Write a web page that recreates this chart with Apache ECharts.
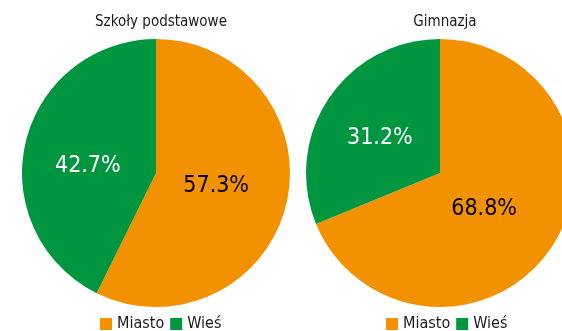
<!DOCTYPE html>
<html>
<head>
<meta charset="utf-8">
<script src="https://cdn.jsdelivr.net/npm/echarts@6/dist/echarts.min.js"></script>
<style>
  html, body { margin: 0; padding: 0; background: #fff; }
  #chart { width: 562px; height: 331px; }
</style>
</head>
<body>
<div id="chart"></div>
<script>
const categories = ['Miasto', 'Wieś'];
const titles = ['Szkoły podstawowe', 'Gimnazja'];
const szkolyValues = [57.3, 42.7];
const gimnazjaValues = [68.8, 31.2];
const colors = ['#f39200', '#009640'];
const labelColors = ['#000000', '#ffffff'];

const font = '"Liberation Sans Narrow", "DejaVu Sans Condensed", sans-serif';

// small nudges so the labels sit where the original put them
const makeData = (values, offsets) => values.map((v, i) => ({
  name: categories[i],
  value: v,
  itemStyle: { color: colors[i] },
  label: { color: labelColors[i], offset: offsets[i] }
}));

const makePie = (values, cx, offsets) => ({
  type: 'pie',
  center: [cx, 173],
  radius: [0, 134],
  startAngle: 90,
  clockwise: true,
  silent: true,
  label: {
    show: true,
    position: 'inside',
    fontFamily: font,
    fontSize: 23,
    formatter: (p) => p.value.toFixed(1) + '%'
  },
  labelLine: { show: false },
  itemStyle: { borderWidth: 0 },
  data: makeData(values, offsets)
});

const legendStyle = {
  icon: 'rect', itemWidth: 12, itemHeight: 12, itemGap: 6,
  textStyle: { fontFamily: font, fontSize: 16, color: '#1a1a1a' }
};

const chart = echarts.init(document.getElementById('chart'));
const option = {
  animation: false,
  title: [
    { text: titles[0], left: 156, top: 10, textAlign: 'center',
      textStyle: { fontFamily: font, fontSize: 15, fontWeight: 'normal', color: '#1a1a1a' } },
    { text: titles[1], left: 440, top: 10, textAlign: 'center',
      textStyle: { fontFamily: font, fontSize: 15, fontWeight: 'normal', color: '#1a1a1a' } }
  ],
  legend: [
    Object.assign({ data: categories, left: 95, top: 311 }, legendStyle),
    Object.assign({ data: categories, left: 381, top: 311 }, legendStyle)
  ],
  series: [
    makePie(szkolyValues, 156, [[-8, -3], [0, 9]]),
    makePie(gimnazjaValues, 440, [[-14, -3], [-2, 4]])
  ]
};
chart.setOption(option);
</script>
</body>
</html>
